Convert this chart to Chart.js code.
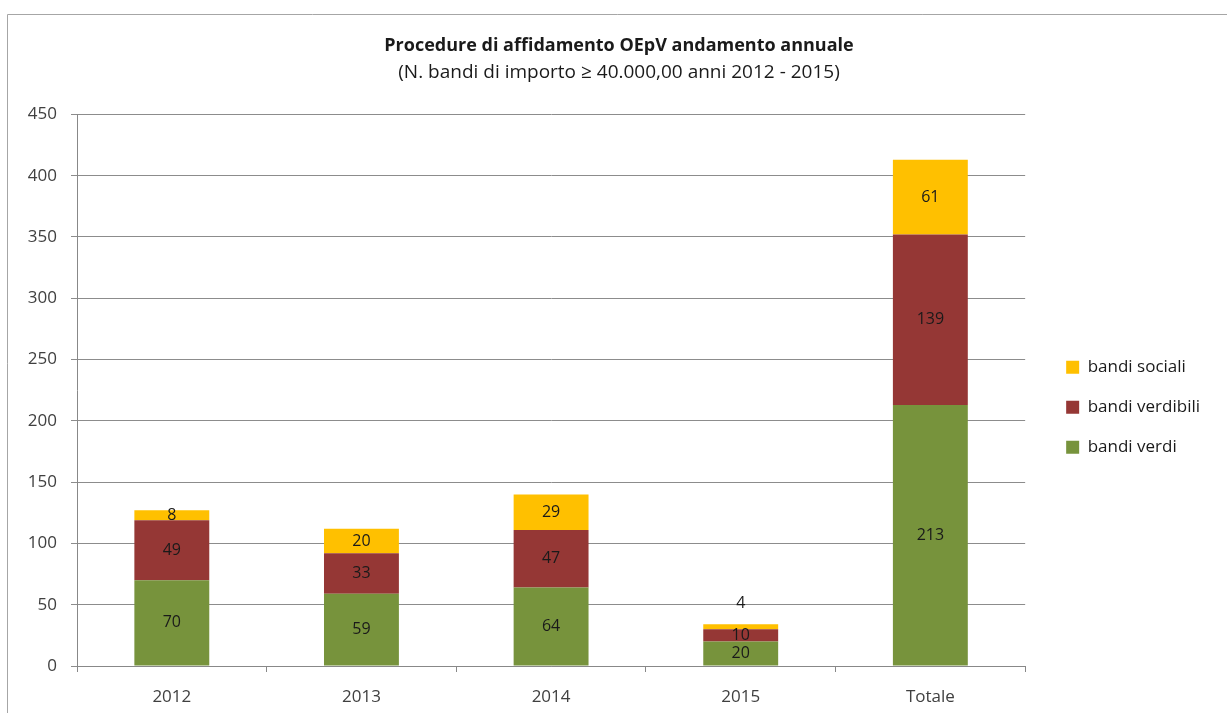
<!DOCTYPE html>
<html>
<head>
<meta charset="utf-8">
<script src="https://cdn.jsdelivr.net/npm/chart.js@4.4.1/dist/chart.umd.min.js"></script>
<style>
  html, body { margin: 0; padding: 0; background: #fff; }
  #wrap { position: relative; width: 1227px; height: 713px; }
  canvas { display: block; }
</style>
</head>
<body>
<div id="wrap"><canvas id="c" width="1227" height="713"></canvas></div>
<script>
const categories = ['2012', '2013', '2014', '2015', 'Totale'];
const bandiVerdi = [70, 59, 64, 20, 213];
const bandiVerdibili = [49, 33, 47, 10, 139];
const bandiSociali = [8, 20, 29, 4, 61];
const yTicks = [0, 50, 100, 150, 200, 250, 300, 350, 400, 450];
const titleText = 'Procedure di affidamento OEpV andamento annuale';
const subtitleText = '(N. bandi di importo \u2265 40.000,00 anni 2012 - 2015)';

const FONT = "'Open Sans', 'Liberation Sans', sans-serif";

const frame = {
  id: 'frame',
  beforeDraw(chart) {
    const ctx = chart.ctx;
    ctx.save();
    ctx.fillStyle = '#fff';
    ctx.fillRect(0, 0, chart.width, chart.height);
    ctx.strokeStyle = '#a6a6a6';
    ctx.lineWidth = 1;
    ctx.beginPath();
    ctx.moveTo(7.5, chart.height);
    ctx.lineTo(7.5, 14.5);
    ctx.lineTo(chart.width, 14.5);
    ctx.stroke();
    ctx.restore();
  }
};

const labels = {
  id: 'segLabels',
  afterDatasetsDraw(chart) {
    const ctx = chart.ctx;
    ctx.save();
    ctx.font = '16px ' + FONT;
    ctx.fillStyle = '#1a1a1a';
    ctx.textAlign = 'center';
    ctx.textBaseline = 'middle';
    chart.data.datasets.forEach((ds, di) => {
      const meta = chart.getDatasetMeta(di);
      meta.data.forEach((bar, i) => {
        const v = ds.data[i];
        const top = Math.min(bar.y, bar.base);
        const h = Math.abs(bar.base - bar.y);
        let y = top + h / 2;
        if (h < 8) y = top - 21;
        ctx.fillText(String(v), bar.x, y);
      });
    });
    ctx.restore();
  }
};

new Chart(document.getElementById('c'), {
  type: 'bar',
  data: {
    labels: categories,
    datasets: [
      { label: 'bandi verdi', data: bandiVerdi, backgroundColor: '#77933C' },
      { label: 'bandi verdibili', data: bandiVerdibili, backgroundColor: '#953735' },
      { label: 'bandi sociali', data: bandiSociali, backgroundColor: '#FFC000' }
    ]
  },
  options: {
    responsive: false,
    animation: false,
    devicePixelRatio: 1,
    layout: { padding: { left: 28, right: 17, top: 35, bottom: 0 } },
    datasets: { bar: { categoryPercentage: 1, barPercentage: 0.395 } },
    plugins: {
      title: {
        display: true, text: titleText, color: '#1a1a1a',
        font: { family: FONT, size: 18, weight: 'bold' },
        padding: { top: 0, bottom: 5 }
      },
      subtitle: {
        display: true, text: subtitleText, color: '#1a1a1a',
        font: { family: FONT, size: 19 },
        padding: { top: 0, bottom: 30 }
      },
      legend: {
        position: 'right',
        reverse: true,
        title: { display: true, text: ' ', font: { family: FONT, size: 12 }, padding: 26 },
        labels: {
          boxWidth: 13, boxHeight: 13, padding: 23,
          color: '#1a1a1a',
          font: { family: FONT, size: 17 }
        }
      },
      tooltip: { enabled: false }
    },
    scales: {
      x: {
        stacked: true,
        grid: { display: true, drawOnChartArea: false, offset: true, tickLength: 6, color: '#888' },
        border: { color: '#888' },
        ticks: { color: '#404040', font: { family: FONT, size: 17 }, padding: 15, maxRotation: 0 },
        afterFit(scale) { scale.height = 47; }
      },
      y: {
        stacked: true,
        min: 0, max: 450,
        afterBuildTicks(scale) { scale.ticks = yTicks.map(v => ({ value: v })); },
        ticks: { color: '#404040', font: { family: FONT, size: 17 }, padding: 14 },
        grid: { color: '#8c8c8c', tickLength: 6 },
        border: { color: '#888' },
        afterFit(scale) { scale.width = 49; }
      },
      gap: {
        position: 'right',
        display: true,
        grid: { display: false },
        border: { display: false },
        ticks: { display: false },
        afterFit(scale) { scale.width = 18; }
      }
    }
  },
  plugins: [frame, labels]
});
</script>
</body>
</html>
